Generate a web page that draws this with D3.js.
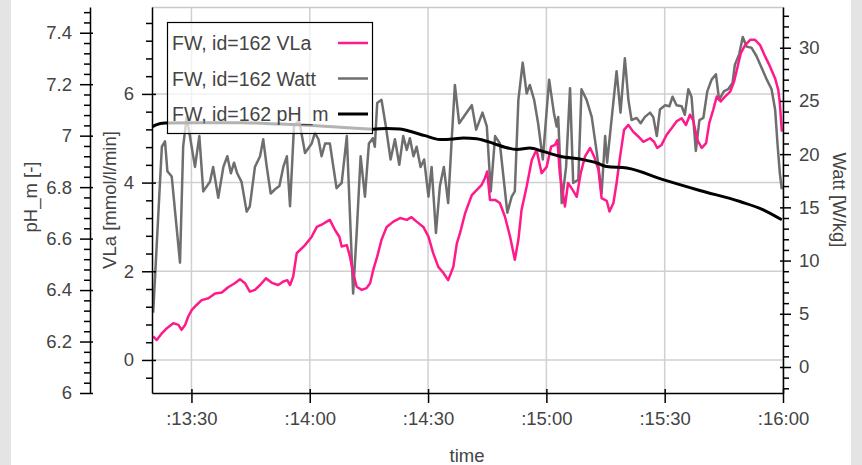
<!DOCTYPE html>
<html>
<head>
<meta charset="utf-8">
<script src="https://cdn.jsdelivr.net/npm/d3@7"></script>
<style>
body { margin: 0; background: #e4e4e4; }
svg { display: block; }
text { font-family: "Liberation Sans", Arial, sans-serif; fill: #444; }
</style>
</head>
<body>
<svg id="chart"></svg>
<script>
var width = 862;
var height = 465;

// time axis, seconds are counted from :13:20
var timeStart = "13:20";
var timeEnd = "16:00";
var timeTicks = ["13:30", "14:00", "14:30", "15:00", "15:30", "16:00"];

var phTicks = [6, 6.2, 6.4, 6.6, 6.8, 7, 7.2, 7.4];
var vlaTicks = [0, 2, 4, 6];
var wattTicks = [0, 5, 10, 15, 20, 25, 30];

var legendLabels = ["FW, id=162 VLa", "FW, id=162 Watt", "FW, id=162 pH_m"];

// [seconds after :13:20, value]
var vlaData = [
  [0.3,0.53],[1.2,0.45],[2.5,0.6],[3.7,0.71],[5.4,0.83],[6.7,0.79],[7.5,0.68],[8.4,0.79],
  [9.2,0.98],[10.1,1.13],[11.3,1.24],[12.6,1.35],[14.3,1.39],[16.0,1.5],[17.7,1.52],[19.3,1.64],
  [21.0,1.73],[22.3,1.82],[23.6,1.73],[24.8,1.54],[26.1,1.58],[27.4,1.69],[28.9,1.84],[30.4,1.74],
  [32.0,1.69],[33.3,1.77],[34.3,1.8],[35.0,1.69],[35.8,1.88],[36.7,2.41],[38.0,2.52],[38.8,2.59],
  [40.5,2.78],[41.8,3.0],[43.0,3.05],[44.3,3.12],[45.1,3.16],[46.4,2.93],[47.5,2.78],[48.1,2.56],
  [49.4,2.59],[50.2,2.33],[51.0,1.96],[51.9,1.65],[53.2,1.58],[54.4,1.62],[55.3,1.73],[56.1,2.03],
  [57.1,2.33],[58.2,2.71],[59.5,3.0],[61.2,3.12],[62.9,3.2],[64.6,3.16],[65.8,3.22],[67.1,3.12],
  [68.8,3.0],[70.1,2.78],[71.3,2.41],[72.6,2.1],[73.9,1.96],[75.1,1.8],[76.4,2.1],[77.3,2.63],
  [78.1,2.86],[79.4,3.31],[81.1,3.72],[82.3,3.83],[83.6,3.95],[84.4,4.1],[85.0,4.25],[85.7,3.61],
  [87.0,3.61],[88.2,3.54],[89.5,3.23],[90.8,2.78],[92.0,2.26],[92.9,2.71],[93.7,3.38],[95.0,3.91],
  [96.3,4.51],[97.5,4.74],[98.8,4.21],[100.1,4.36],[101.2,4.81],[102.2,4.85],[102.8,4.96],[103.4,4.21],
  [104.7,3.46],[105.5,3.99],[106.7,3.83],[107.7,3.68],[108.7,4.21],[109.8,4.59],[111.1,4.78],[112.1,4.59],
  [113.2,4.29],[114.0,3.65],[115.3,3.59],[116.0,3.35],[117.0,3.54],[117.8,3.99],[118.7,4.59],[119.7,5.19],
  [120.8,5.3],[122.0,5.15],[123.3,5.04],[124.6,4.92],[126.3,5.0],[127.3,4.92],[128.1,4.78],[129.2,4.85],
  [130.5,5.08],[131.8,5.23],[133.0,5.38],[134.3,5.45],[135.4,5.3],[136.4,5.53],[137.2,5.41],[138.3,4.96],
  [139.4,4.78],[140.5,4.89],[141.3,5.34],[142.3,5.64],[143.2,5.94],[144.2,5.83],[145.3,5.94],[146.6,6.05],
  [147.6,6.28],[148.5,6.62],[149.3,6.92],[150.4,7.1],[151.7,7.22],[152.9,7.22],[154.2,7.1],[155.5,6.84],
  [156.7,6.62],[158.0,6.35],[158.8,6.09],[159.2,5.79],[159.7,5.15]
];

var wattData = [
  [0.3,5.1],[2.5,20.7],[3.3,21.2],[3.9,18.4],[5.0,17.9],[7.1,9.8],[7.9,20.7],[8.8,23.5],
  [10.9,18.8],[12.0,21.7],[13.0,16.5],[14.7,17.4],[15.5,18.8],[16.8,15.9],[18.1,18.8],[19.1,19.8],
  [20.0,18.2],[20.8,19.2],[21.6,18.2],[22.7,17.4],[24.0,14.6],[24.8,15.1],[26.1,18.8],[27.4,19.8],
  [28.2,21.4],[29.1,18.8],[30.1,16.3],[31.2,16.7],[32.3,17.0],[33.3,18.8],[34.2,19.8],[35.0,15.1],
  [36.0,22.6],[37.3,23.2],[38.8,20.1],[40.5,21.0],[41.3,22.0],[42.2,21.4],[43.0,19.8],[43.9,21.0],
  [45.1,21.0],[46.8,16.8],[48.1,17.3],[49.4,21.7],[51.0,6.9],[51.9,12.6],[52.9,19.8],[54.0,16.0],
  [55.0,21.0],[56.0,21.5],[56.5,20.7],[57.1,24.8],[58.2,25.1],[59.3,22.6],[60.5,19.5],[61.6,21.4],
  [62.7,19.0],[63.7,21.7],[64.6,20.4],[65.4,21.5],[66.3,19.8],[67.1,20.7],[68.1,18.8],[69.0,19.5],
  [70.1,16.0],[70.9,18.8],[72.0,12.6],[73.0,17.0],[74.0,18.8],[75.1,15.4],[76.0,21.4],[76.8,26.5],
  [77.9,22.9],[79.4,23.7],[81.1,24.6],[82.2,22.3],[83.8,23.9],[84.9,22.6],[85.9,16.5],[87.0,21.7],
  [88.2,21.0],[90.1,14.5],[91.2,16.0],[92.0,16.5],[92.9,25.1],[94.0,28.6],[95.0,25.7],[95.8,26.5],
  [96.9,25.1],[97.9,22.9],[99.1,19.5],[100.7,27.0],[101.9,23.9],[102.6,22.6],[103.0,23.5],[103.9,15.4],
  [105.0,18.8],[106.0,26.2],[106.8,17.3],[108.1,17.6],[108.9,26.1],[110.2,25.1],[111.5,23.5],[112.8,20.1],
  [114.0,16.3],[114.9,21.7],[115.4,19.2],[116.6,23.5],[117.8,27.8],[118.8,23.9],[119.9,29.0],[120.8,25.1],
  [121.6,23.2],[122.9,23.4],[123.9,22.9],[125.0,23.5],[126.3,23.9],[127.1,23.5],[128.0,21.7],[128.8,24.2],
  [130.1,24.6],[131.2,24.5],[132.0,25.4],[133.0,24.6],[134.3,24.5],[135.1,23.7],[136.0,26.1],[136.8,25.4],
  [137.9,20.3],[138.8,23.2],[139.8,23.4],[140.8,25.9],[141.9,27.0],[143.0,27.5],[143.8,25.1],[145.0,25.9],
  [146.1,26.1],[147.2,26.7],[147.8,28.4],[148.9,29.4],[149.8,31.0],[150.8,30.1],[152.0,30.0],[153.3,29.2],
  [154.6,28.1],[155.9,27.0],[157.1,26.1],[158.0,24.2],[158.6,21.0],[159.2,18.2],[159.7,16.7]
];

var phData = [
  [0.1,7.035],[1.0,7.042],[3.3,7.049],[12.2,7.05],[22.3,7.05],[32.5,7.045],[42.6,7.038],[47.7,7.033],
  [52.7,7.028],[56.0,7.025],[59.5,7.028],[62.9,7.026],[65.4,7.017],[69.2,7.0],[73.0,6.985],[76.4,6.987],
  [78.9,6.991],[82.3,6.988],[86.5,6.97],[89.5,6.955],[92.5,6.946],[95.8,6.952],[99.1,6.939],[103.4,6.92],
  [109.3,6.907],[112.8,6.894],[115.3,6.88],[120.4,6.874],[129.6,6.829],[138.9,6.787],[149.1,6.744],
  [155.0,6.712],[159.7,6.673]
];

var parseMS = d3.timeParse("%M:%S");
var t0 = parseMS(timeStart);
function toDate(sec) { return new Date(t0.getTime() + sec * 1000); }

var margin = { left: 152, right: 79, top: 7, bottom: 72 };
var plotW = width - margin.left - margin.right;
var plotH = height - margin.top - margin.bottom;

var svg = d3.select("#chart")
  .attr("width", width)
  .attr("height", height);

svg.append("rect")
  .attr("x", 11).attr("y", 0)
  .attr("width", 840).attr("height", height)
  .attr("fill", "white");

var x = d3.scaleTime()
  .domain([t0, parseMS(timeEnd)])
  .range([margin.left, margin.left + plotW]);

var yVla = d3.scaleLinear().domain([-0.745, 7.96]).range([margin.top + plotH, margin.top]);
var yWatt = d3.scaleLinear().domain([-2.443, 33.826]).range([margin.top + plotH, margin.top]);
var yPh = d3.scaleLinear().domain([6, 7.5]).range([margin.top + plotH, margin.top]);

var bottom = margin.top + plotH;
var right = margin.left + plotW;

// grid
var grid = svg.append("g");
grid.selectAll(".gx")
  .data(timeTicks)
  .enter().append("line")
  .attr("x1", function(d) { return x(parseMS(d)); })
  .attr("x2", function(d) { return x(parseMS(d)); })
  .attr("y1", margin.top).attr("y2", bottom)
  .attr("stroke", "#d0d0d0").attr("stroke-width", 1.5);
grid.selectAll(".gy")
  .data(vlaTicks)
  .enter().append("line")
  .attr("x1", margin.left).attr("x2", right)
  .attr("y1", function(d) { return yVla(d); })
  .attr("y2", function(d) { return yVla(d); })
  .attr("stroke", "#d0d0d0").attr("stroke-width", 1.5);

svg.append("line")
  .attr("x1", margin.left).attr("x2", right)
  .attr("y1", margin.top + 0.5).attr("y2", margin.top + 0.5)
  .attr("stroke", "#c8c8c8").attr("stroke-width", 1.5);

// lines
var wattLine = d3.line()
  .x(function(d) { return x(toDate(d[0])); })
  .y(function(d) { return yWatt(d[1]); });
var vlaLine = d3.line()
  .x(function(d) { return x(toDate(d[0])); })
  .y(function(d) { return yVla(d[1]); });
var phLine = d3.line()
  .curve(d3.curveMonotoneX)
  .x(function(d) { return x(toDate(d[0])); })
  .y(function(d) { return yPh(d[1]); });

svg.append("path").datum(wattData)
  .attr("d", wattLine).attr("fill", "none")
  .attr("stroke", "#6e6e6e").attr("stroke-width", 2.5)
  .attr("stroke-linejoin", "round");
svg.append("path").datum(vlaData)
  .attr("d", vlaLine).attr("fill", "none")
  .attr("stroke", "#ff1a8c").attr("stroke-width", 2.5)
  .attr("stroke-linejoin", "round");
svg.append("path").datum(phData)
  .attr("d", phLine).attr("fill", "none")
  .attr("stroke", "#000").attr("stroke-width", 3)
  .attr("stroke-linejoin", "round");

// axes with ticks crossing the axis line
function styleAxis(g, inner, vertical, sign) {
  g.select(".domain").attr("stroke", "#000").attr("stroke-width", 1.5);
  g.selectAll(".tick line").attr("stroke", "#000").attr("stroke-width", 1.5);
  if (inner) {
    g.selectAll(".tick line").attr(vertical ? "x1" : "y1", sign * inner);
  }
  g.selectAll("text").style("font-size", "18.5px").attr("fill", "#444");
}

function minors(lo, hi, step, majors) {
  var out = [];
  for (var v = lo; v <= hi + 1e-9; v += step) {
    var r = Math.round(v * 1000) / 1000;
    if (majors.indexOf(r) < 0) out.push(r);
  }
  return out;
}

// time axis
var gx = svg.append("g").attr("transform", "translate(0," + bottom + ")")
  .call(d3.axisBottom(x)
    .tickValues(timeTicks.map(parseMS))
    .tickFormat(d3.timeFormat(":%M:%S"))
    .tickSize(10).tickSizeOuter(0).tickPadding(9));
styleAxis(gx, 4, false, -1);

// VLa axis
var gv = svg.append("g").attr("transform", "translate(" + margin.left + ",0)")
  .call(d3.axisLeft(yVla).tickValues(vlaTicks).tickFormat(d3.format("d"))
    .tickSize(10).tickSizeOuter(0).tickPadding(8));
styleAxis(gv, 4, true, 1);
svg.append("g").attr("transform", "translate(" + margin.left + ",0)")
  .call(d3.axisLeft(yVla).tickValues(minors(-0.4, 7.6, 0.4, vlaTicks)).tickFormat("")
    .tickSize(6).tickSizeOuter(0))
  .call(function(g) { g.select(".domain").remove(); g.selectAll("line").attr("stroke", "#000").attr("stroke-width", 1.5); });

// Watt axis
var gw = svg.append("g").attr("transform", "translate(" + right + ",0)")
  .call(d3.axisRight(yWatt).tickValues(wattTicks).tickFormat(d3.format("d"))
    .tickSize(8).tickSizeOuter(0).tickPadding(8));
styleAxis(gw, 3, true, -1);
svg.append("g").attr("transform", "translate(" + right + ",0)")
  .call(d3.axisRight(yWatt).tickValues(minors(-2, 33, 1, wattTicks)).tickFormat("")
    .tickSize(6).tickSizeOuter(0))
  .call(function(g) { g.select(".domain").remove(); g.selectAll("line").attr("stroke", "#000").attr("stroke-width", 1.5); });

// pH axis
var gp = svg.append("g").attr("transform", "translate(90,0)")
  .call(d3.axisLeft(yPh).tickValues(phTicks).tickFormat(d3.format("~g"))
    .tickSize(10).tickSizeOuter(0).tickPadding(8));
styleAxis(gp, 3, true, 1);
svg.append("g").attr("transform", "translate(90,0)")
  .call(d3.axisLeft(yPh).tickValues(minors(6, 7.48, 0.04, phTicks)).tickFormat("")
    .tickSize(6).tickSizeOuter(0))
  .call(function(g) { g.select(".domain").remove(); g.selectAll("line").attr("stroke", "#000").attr("stroke-width", 1.5); });

// axis titles
svg.append("text").attr("transform", "translate(37,197) rotate(-90)")
  .attr("text-anchor", "middle").style("font-size", "18.5px").text("pH_m [-]");
svg.append("text").attr("transform", "translate(116,200) rotate(-90)")
  .attr("text-anchor", "middle").style("font-size", "18.5px").text("VLa [mmol/l/min]");
svg.append("text").attr("transform", "translate(833,200) rotate(90)")
  .attr("text-anchor", "middle").style("font-size", "18.5px").text("Watt [W/kg]");
svg.append("text").attr("x", 467).attr("y", 462)
  .attr("text-anchor", "middle").style("font-size", "18.5px").text("time");

// legend
var legendColors = ["#ff1a8c", "#6e6e6e", "#000"];
var legend = svg.append("g");
legend.append("rect")
  .attr("x", 167.5).attr("y", 22.5).attr("width", 205).attr("height", 111)
  .attr("fill", "white").attr("fill-opacity", 0.7)
  .attr("stroke", "#000").attr("stroke-width", 1.2);
var items = legend.selectAll(".item")
  .data(legendLabels)
  .enter().append("g")
  .attr("transform", function(d, i) { return "translate(0," + (43 + i * 35.5) + ")"; });
items.append("text")
  .attr("x", 172).attr("dy", "0.36em")
  .style("font-size", "19.5px").attr("fill", "#444")
  .text(function(d) { return d; });
items.append("line")
  .attr("x1", 338).attr("x2", 368)
  .attr("stroke", function(d, i) { return legendColors[i]; })
  .attr("stroke-width", function(d, i) { return i === 2 ? 3 : 2.5; });
</script>
</body>
</html>
